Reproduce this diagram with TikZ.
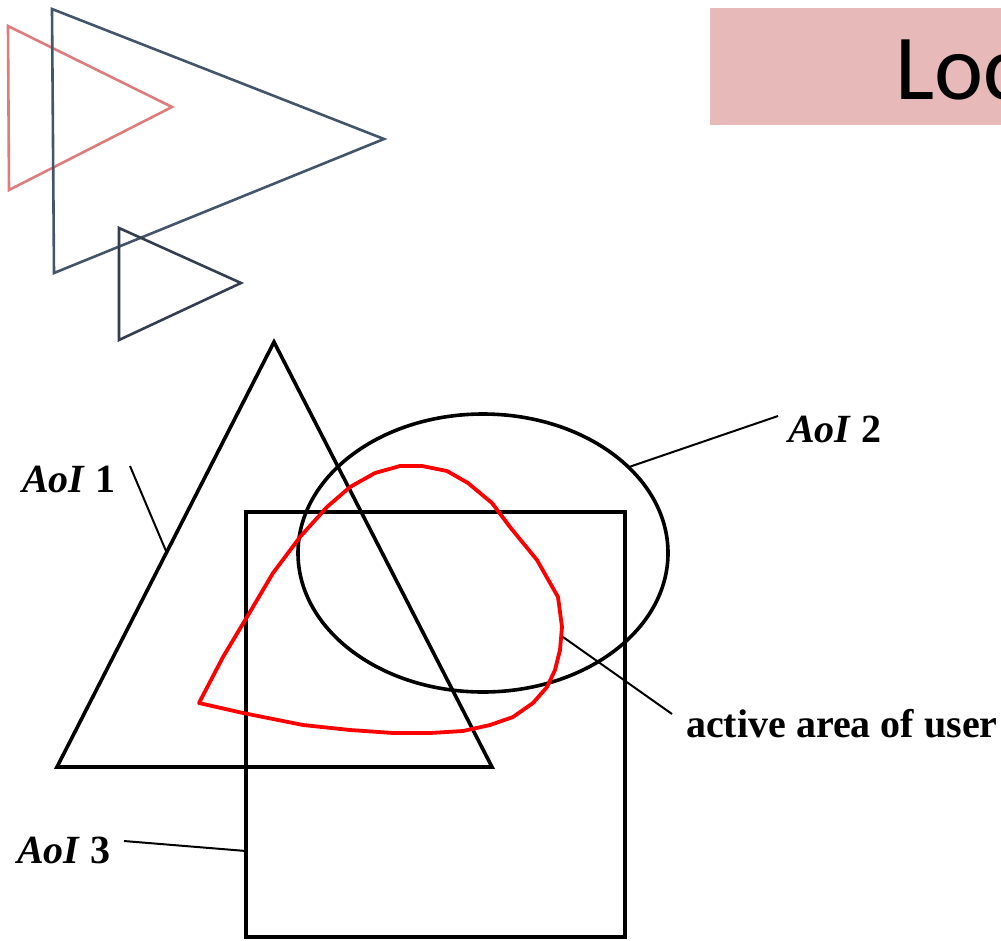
\documentclass[tikz,border=0pt]{standalone}
\usepackage{fontspec}
\setmainfont{Liberation Serif}
\newfontfamily\titlefont{Carlito}
\definecolor{pinkfill}{HTML}{E8B9B9}
\definecolor{pinkline}{HTML}{E07B7B}
\definecolor{slateA}{HTML}{44546A}
\definecolor{slateB}{HTML}{333F50}
\definecolor{activered}{HTML}{FF0000}
\tikzset{
  deco/.style={line width=2.6pt, line join=miter},
  aoishape/.style={draw=black, line width=3.6pt, line join=miter},
  leader/.style={draw=black, line width=2pt},
  lbl/.style={inner sep=0pt, font=\fontsize{40}{41}\selectfont\bfseries},
}
\begin{document}
\begin{tikzpicture}[x=1pt,y=-1pt]
\useasboundingbox (0,0) rectangle (1001,940);
\clip (0,0) rectangle (1001,940);
% title banner
\fill[pinkfill] (710,8) rectangle (1005,125);
\node[inner sep=0pt, anchor=base west, font=\titlefont\fontsize{93}{95}\selectfont] (title) at (895,99) {Loc};
% decorative triangles
\draw[deco, draw=pinkline] (8,26) -- (172,107) -- (9,190) -- cycle;
\draw[deco, draw=slateA] (52,9) -- (384,139) -- (54,273) -- cycle;
\draw[deco, draw=slateB] (119,228) -- (241,283) -- (119,340) -- cycle;
% AoI shapes
\draw[aoishape] (274,342) -- (492,767) -- (57,767) -- cycle;
\draw[aoishape] (483,553) ellipse [x radius=185pt, y radius=139pt];
\draw[aoishape] (246,512) rectangle (625,937);
% active area of user
\draw[activered, line width=3.8pt, line join=round]
  (199,703) -- (223,657) -- (247,617) -- (273,573) -- (300,537) -- (327,507)
  -- (350,487) -- (375,473) -- (400,466) -- (422,466) -- (447,471) -- (468,483)
  -- (492,503) -- (510,527) -- (537,560) -- (558,597) -- (562,627) -- (560,650)
  -- (555,670) -- (547,687) -- (533,703) -- (513,717) -- (490,725) -- (463,731)
  -- (430,733) -- (393,733) -- (350,730) -- (303,725) -- (243,713) -- cycle;
% labels
\node[lbl, anchor=base west] (l1) at (22,492) {\textit{AoI} 1};
\node[lbl, anchor=base west] (l2) at (788,442) {\textit{AoI} 2};
\node[lbl, anchor=base west] (l3) at (17,863) {\textit{AoI} 3};
\node[lbl, anchor=base west] (l4) at (686,737) {active area of user};
% leader lines
\coordinate (a1s) at (130,466);
\coordinate (a1e) at (166,551);
\coordinate (a2s) at (778,416);
\coordinate (a2e) at (629,467);
\coordinate (a3s) at (124,841);
\coordinate (a3e) at (246,851);
\coordinate (a4s) at (672,714);
\coordinate (a4e) at (563,637);
\draw[leader] (a1s) -- (a1e);
\draw[leader] (a2s) -- (a2e);
\draw[leader] (a3s) -- (a3e);
\draw[leader] (a4s) -- (a4e);
\end{tikzpicture}
\end{document}
